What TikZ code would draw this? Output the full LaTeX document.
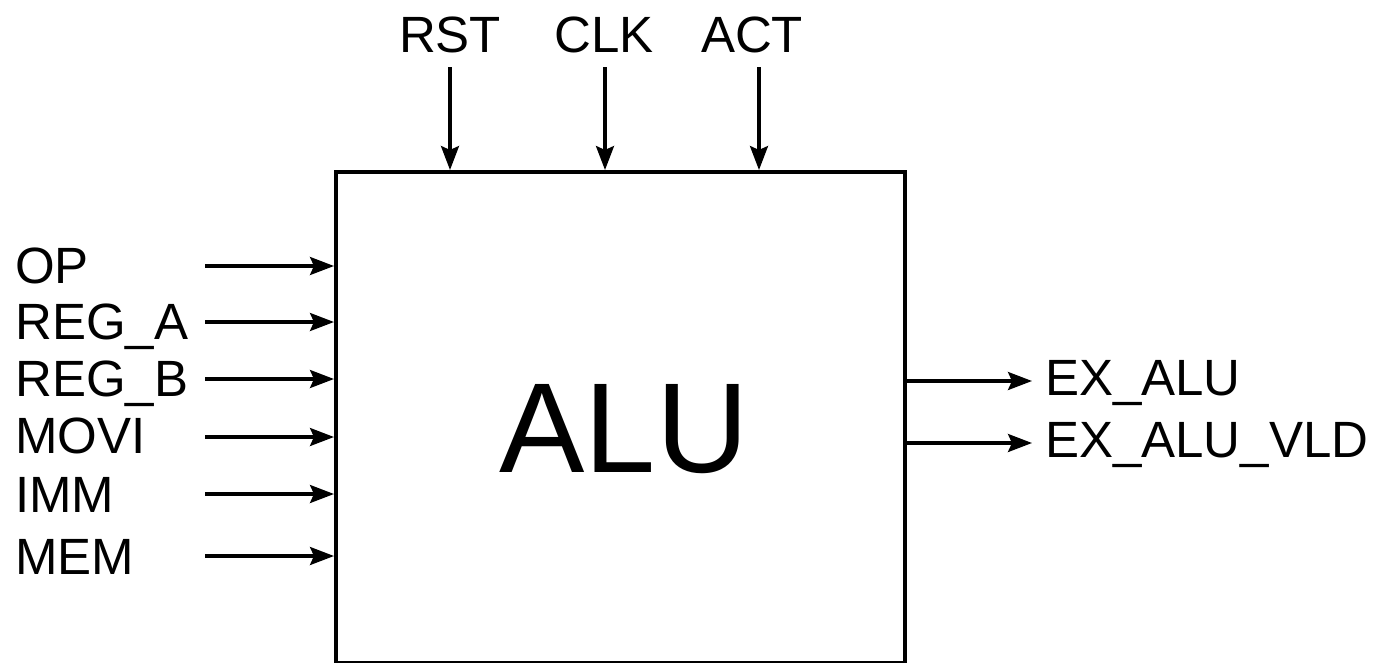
\documentclass[tikz,border=0pt]{standalone}
\usepackage{fontspec}
\setmainfont{Liberation Sans}
\usetikzlibrary{arrows.meta}
\begin{document}
\begin{tikzpicture}[x=1pt,y=-1pt,
  lbl/.style={inner sep=0pt, font=\fontsize{51}{57}\selectfont},
  arr/.style={line width=3.2pt, -{Stealth[length=24pt,width=18pt,inset=4pt]}},
  blk/.style={draw, line width=4pt, minimum width=569pt, minimum height=491pt, inner sep=0pt}]
\useasboundingbox (0,0) rectangle (1378,662);
\node[blk, anchor=north west] (alu) at (334,170) {};
\node[inner sep=0pt, anchor=base, font=\fontsize{128}{140}\selectfont] (alut) at (624,472) {ALU};
% top inputs
\node[lbl, anchor=base] (rst) at (450,52) {RST};
\node[lbl, anchor=base] (clk) at (604,52) {CLK};
\node[lbl, anchor=base] (act) at (752,52) {ACT};
\coordinate (rsts) at (450,67);
\coordinate (clks) at (605,67);
\coordinate (acts) at (759,67);
\draw[arr] (rsts) -- (rsts |- alu.north);
\draw[arr] (clks) -- (clks |- alu.north);
\draw[arr] (acts) -- (acts |- alu.north);
% left inputs
\node[lbl, anchor=base west] (op) at (15,283) {OP};
\node[lbl, anchor=base west] (rega) at (15,339) {REG\_A};
\node[lbl, anchor=base west] (regb) at (15,396) {REG\_B};
\node[lbl, anchor=base west] (movi) at (15,453) {MOVI};
\node[lbl, anchor=base west] (imm) at (15,512) {IMM};
\node[lbl, anchor=base west] (mem) at (15,574) {MEM};
\coordinate (ops) at (205,266);
\coordinate (regas) at (205,322);
\coordinate (regbs) at (205,379);
\coordinate (movis) at (205,437);
\coordinate (imms) at (205,494);
\coordinate (mems) at (205,556);
\foreach \c in {ops,regas,regbs,movis,imms,mems}
  \draw[arr] (\c) -- (\c -| alu.west);
% outputs
\node[lbl, anchor=base west] (exalu) at (1045,395) {EX\_ALU};
\node[lbl, anchor=base west] (exvld) at (1045,457) {EX\_ALU\_VLD};
\coordinate (exalue) at (1032,381);
\coordinate (exvlde) at (1032,443);
\draw[arr] (exalue -| alu.east) -- (exalue);
\draw[arr] (exvlde -| alu.east) -- (exvlde);
\end{tikzpicture}
\end{document}
